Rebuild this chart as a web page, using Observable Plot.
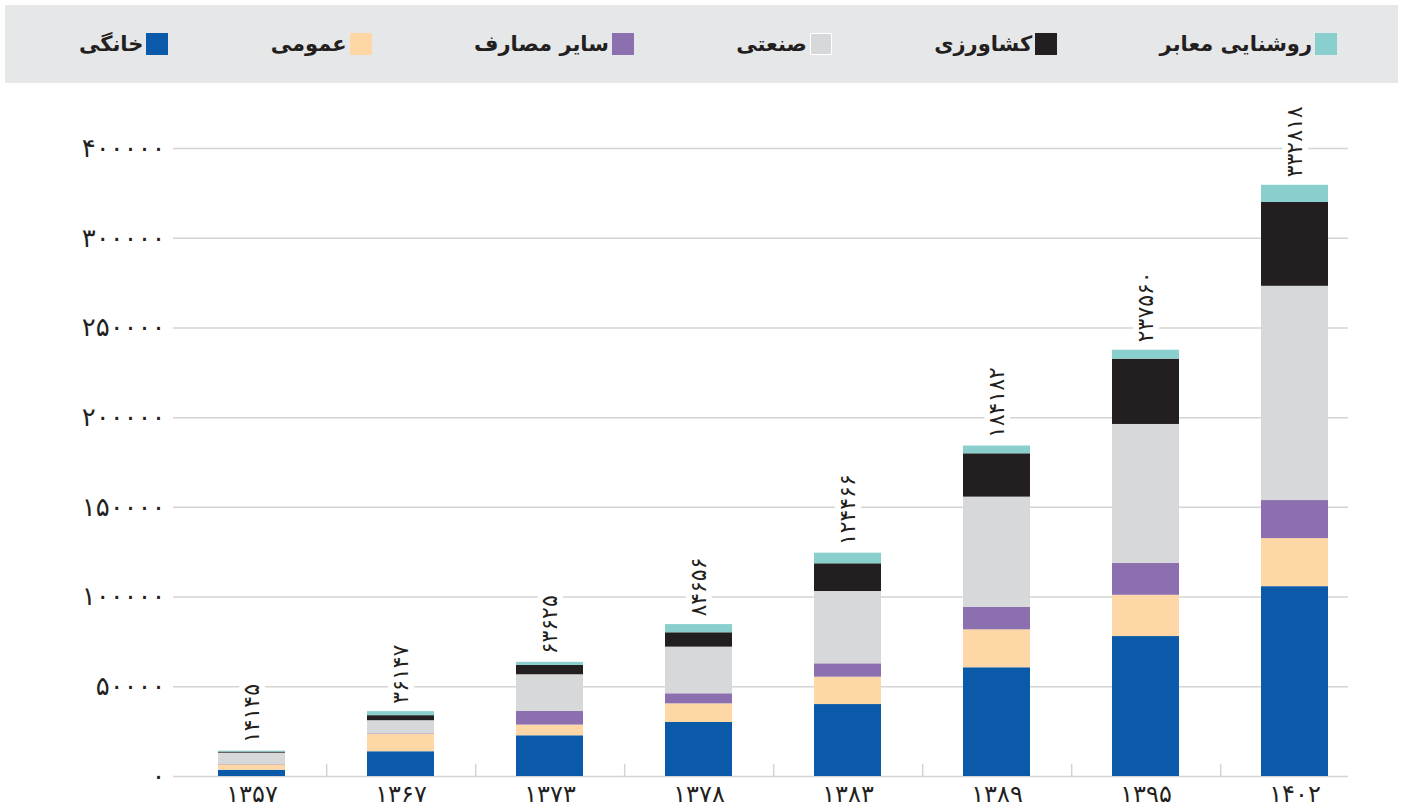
<!DOCTYPE html>
<html>
<head>
<meta charset="utf-8">
<script src="https://cdn.jsdelivr.net/npm/d3@7"></script>
<script src="https://cdn.jsdelivr.net/npm/@observablehq/plot@0.6"></script>
<style>
  html, body { margin: 0; padding: 0; background: #fff; }
  body { width: 1402px; height: 812px; overflow: hidden; font-family: "DejaVu Sans", sans-serif; }
  #legend {
    position: relative; margin: 5px 4px 0 5px; height: 78px; background: #e6e7e8;
    display: flex; flex-direction: row; direction: rtl; justify-content: space-between; align-items: center;
    padding: 0 61px 0 74px; box-sizing: border-box;
  }
  .item { display: flex; flex-direction: row; align-items: center; direction: rtl; }
  .sw { width: 22px; height: 22px; margin-left: 3px; box-sizing: border-box; }
  .lab { font-family: "DejaVu Sans", sans-serif; font-weight: bold; font-size: 21px; color: #231f20; }
  #chart { position: absolute; left: 0; top: 88px; }
  #chart g[aria-label="y-axis tick label"] text { letter-spacing: 14px; font-size: 26px; }
  #chart g[aria-label="x-axis tick label"] text { letter-spacing: 3px; font-size: 24px; }
</style>
</head>
<body>
<div id="legend"></div>
<div id="chart"></div>
<script>
// Categories (years) and tick labels
const years = ["۱۳۵۷","۱۳۶۷","۱۳۷۳","۱۳۷۸","۱۳۸۳","۱۳۸۹","۱۳۹۵","۱۴۰۲"];
const yTickValues = [0, 50000, 100000, 150000, 200000, 250000, 300000, 350000];
const yTickLabels = ["۰","۵۰۰۰۰","۱۰۰۰۰۰","۱۵۰۰۰۰","۲۰۰۰۰۰","۲۵۰۰۰۰","۳۰۰۰۰۰","۴۰۰۰۰۰"];
const totalLabels = ["۱۴۱۴۵","۳۶۱۴۷","۶۳۶۲۵","۸۴۶۵۶","۱۲۴۴۶۶","۱۸۴۱۸۲","۲۳۷۵۶۰","۳۳۲۸۱۸"];

// Series (bottom to top)
const seriesNames = ["خانگی","عمومی","سایر مصارف","صنعتی","کشاورزی","روشنایی معابر"];
const seriesColors = ["#0b5aa9","#fdd7a6","#8c6fae","#d7d8da","#231f20","#88cfcd"];
const household   = [3500, 13800, 22700, 30100, 40100, 60600, 78000, 105800];
const publicUse   = [3000, 9700, 5950, 10400, 15250, 21150, 23000, 26800];
const otherUse    = [200, 300, 7580, 5600, 7450, 12600, 17700, 21200];
const industrial  = [6300, 7300, 20470, 26000, 40300, 61350, 77500, 119400];
const agriculture = [600, 2800, 5200, 8000, 15450, 24150, 36400, 46700];
const lighting    = [545, 2247, 1725, 4556, 5916, 4332, 4960, 9600];
const seriesValues = [household, publicUse, otherUse, industrial, agriculture, lighting];

const data = [];
seriesNames.forEach((s, si) => {
  years.forEach((y, yi) => data.push({year: y, series: s, value: seriesValues[si][yi]}));
});
const totals = years.map((y, yi) => ({
  year: y,
  total: d3.sum(seriesValues, arr => arr[yi]),
  label: totalLabels[yi]
}));

// Legend (right to left)
const legend = document.getElementById("legend");
seriesNames.slice().reverse().forEach((s) => {
  const i = seriesNames.indexOf(s);
  const item = document.createElement("div");
  item.className = "item";
  const sw = document.createElement("div");
  sw.className = "sw";
  sw.style.background = seriesColors[i];
  if (s === "صنعتی") sw.style.border = "1.5px solid #fff";
  const lab = document.createElement("span");
  lab.className = "lab";
  lab.textContent = s;
  item.appendChild(sw);
  item.appendChild(lab);
  legend.appendChild(item);
});

const chart = Plot.plot({
  width: 1402,
  height: 724,
  marginLeft: 173,
  marginRight: 54,
  marginTop: 60,
  marginBottom: 36,
  style: {fontFamily: "DejaVu Sans, sans-serif", fontSize: "22px", color: "#231f20", background: "transparent"},
  x: {domain: years, paddingInner: 0.552, paddingOuter: 0.2085, align: 0.69, label: null, tickSize: 0, tickPadding: 8},
  y: {domain: [0, 350000], ticks: yTickValues, tickFormat: d => yTickLabels[yTickValues.indexOf(d)], label: null, tickSize: 0, tickPadding: 8},
  color: {domain: seriesNames, range: seriesColors},
  marks: [
    Plot.ruleY(yTickValues, {stroke: "#d4d4d4", strokeWidth: 1.5}),
    Plot.ruleX(years.slice(0, -1), {x: d => d, dx: 74.7, y1: 0, y2: 6800, stroke: "#d4d4d4", strokeWidth: 1.5}),
    Plot.barY(data, {x: "year", y: "value", fill: "series", order: seriesNames}),
    Plot.text(totals, {x: "year", y: "total", text: "label", rotate: -90, textAnchor: "start", dy: -8,
      fontSize: 22, fill: "#231f20", stroke: "white", strokeWidth: 12})
  ]
});
document.getElementById("chart").appendChild(chart);
</script>
</body>
</html>
